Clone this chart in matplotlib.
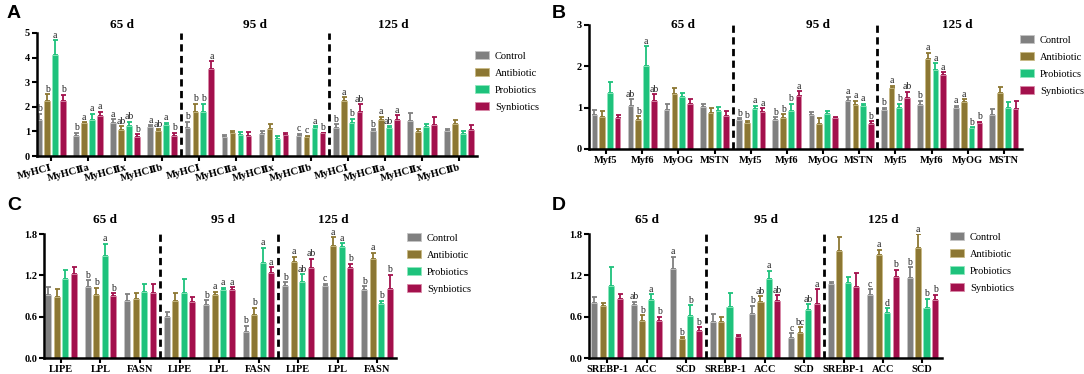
import numpy as np
import matplotlib
matplotlib.use("Agg")
import matplotlib.pyplot as plt
from matplotlib.patches import Patch
from matplotlib.transforms import blended_transform_factory, ScaledTranslation

plt.rcParams['font.family'] = ['Liberation Serif', 'DejaVu Serif']

W, H = 1084, 374

treatments = ['Control', 'Antibiotic', 'Probiotics', 'Synbiotics']
colors = ['#808080', '#8c7733', '#1ec27c', '#a3104c']
edges = ['#c4c4c4', '#c9bb86', '#8fe8bd', '#d98aa8']
days = ['65 d', '95 d', '125 d']

# ---- panel A: MyHC isoforms ----
A_genes = ['MyHCⅠ', 'MyHCⅡa', 'MyHCⅡx', 'MyHCⅡb']
A_mean = [
    [1.47, 0.82, 1.33, 1.17, 1.13, 0.77, 0.88, 0.80, 1.13, 1.02, 1.43, 1.02],
    [2.25, 1.33, 1.07, 1.00, 1.78, 0.92, 1.10, 0.77, 2.23, 1.46, 0.98, 1.32],
    [4.12, 1.45, 1.20, 1.25, 1.78, 0.85, 0.70, 1.15, 1.34, 1.12, 1.19, 0.90],
    [2.23, 1.63, 0.78, 0.83, 3.55, 0.82, 0.87, 0.92, 1.78, 1.46, 1.27, 1.04],
]
A_sd = [
    [0.25, 0.13, 0.17, 0.08, 0.27, 0.08, 0.12, 0.10, 0.17, 0.08, 0.32, 0.06],
    [0.27, 0.05, 0.15, 0.10, 0.34, 0.11, 0.20, 0.05, 0.15, 0.14, 0.12, 0.13],
    [0.58, 0.27, 0.20, 0.10, 0.34, 0.13, 0.10, 0.05, 0.18, 0.08, 0.11, 0.10],
    [0.27, 0.17, 0.10, 0.12, 0.30, 0.15, 0.06, 0.03, 0.32, 0.19, 0.33, 0.21],
]
A_sig = [
    ['b', 'b', 'a', 'a', 'b', '', '', 'c', 'b', 'b', '', ''],
    ['b', 'a', 'ab', 'ab', 'b', '', '', 'c', 'a', 'a', '', ''],
    ['a', 'a', 'ab', 'a', 'b', '', '', 'a', 'b', 'ab', '', ''],
    ['b', 'a', 'b', 'b', 'a', '', '', 'b', 'ab', 'a', '', ''],
]

# ---- panel B: myogenic factors ----
B_genes = ['Myf5', 'Myf6', 'MyOG', 'MSTN']
B_mean = [
    [0.82, 1.04, 0.94, 1.02, 0.70, 0.70, 0.82, 1.17, 0.94, 1.07, 1.00, 0.83],
    [0.78, 0.70, 1.33, 0.86, 0.62, 0.76, 0.60, 1.06, 1.47, 2.18, 1.13, 1.35],
    [1.35, 2.00, 1.26, 0.92, 0.97, 0.93, 0.85, 1.05, 1.00, 1.92, 0.50, 0.98],
    [0.74, 1.16, 1.10, 0.79, 0.89, 1.28, 0.74, 0.60, 1.24, 1.78, 0.62, 0.97],
]
B_sd = [
    [0.13, 0.16, 0.14, 0.08, 0.05, 0.07, 0.08, 0.10, 0.06, 0.10, 0.05, 0.13],
    [0.14, 0.10, 0.15, 0.12, 0.06, 0.08, 0.14, 0.11, 0.06, 0.15, 0.07, 0.15],
    [0.28, 0.48, 0.09, 0.10, 0.08, 0.17, 0.08, 0.05, 0.10, 0.16, 0.03, 0.15],
    [0.08, 0.17, 0.10, 0.13, 0.09, 0.12, 0.04, 0.07, 0.15, 0.08, 0.04, 0.19],
]
B_sig = [
    ['', 'ab', '', '', 'b', 'b', '', 'a', 'b', 'b', 'a', ''],
    ['', 'b', '', '', 'b', 'b', '', 'a', 'a', 'a', 'a', ''],
    ['', 'a', '', '', 'a', 'b', '', 'a', 'b', 'a', 'b', ''],
    ['', 'ab', '', '', 'a', 'a', '', 'b', 'ab', 'a', 'b', ''],
]

# ---- panel C: lipid metabolism ----
C_genes = ['LIPE', 'LPL', 'FASN']
C_mean = [
    [0.92, 1.03, 0.83, 0.60, 0.77, 0.38, 1.05, 1.04, 0.99],
    [0.88, 0.92, 0.85, 0.83, 0.91, 0.62, 1.39, 1.62, 1.44],
    [1.14, 1.48, 0.96, 0.94, 0.99, 1.38, 1.11, 1.61, 0.79],
    [1.22, 0.90, 0.94, 0.82, 0.98, 1.24, 1.30, 1.30, 1.00],
]
C_sd = [
    [0.11, 0.10, 0.10, 0.07, 0.07, 0.09, 0.05, 0.04, 0.05],
    [0.12, 0.10, 0.09, 0.11, 0.05, 0.11, 0.08, 0.13, 0.09],
    [0.14, 0.18, 0.12, 0.21, 0.03, 0.22, 0.11, 0.06, 0.04],
    [0.10, 0.04, 0.14, 0.07, 0.05, 0.08, 0.14, 0.07, 0.21],
]
C_sig = [
    ['', 'b', '', '', 'b', 'b', 'b', 'c', 'b'],
    ['', 'b', '', '', 'a', 'b', 'a', 'a', 'a'],
    ['', 'a', '', '', 'a', 'a', 'ab', 'a', 'b'],
    ['', 'b', '', '', 'a', 'a', 'ab', 'b', 'b'],
]

# ---- panel D: lipogenesis ----
D_genes = ['SREBP-1', 'ACC', 'SCD']
D_mean = [
    [0.80, 0.77, 1.29, 0.52, 0.64, 0.29, 1.07, 0.91, 1.16],
    [0.75, 0.54, 0.28, 0.52, 0.82, 0.37, 1.55, 1.50, 1.60],
    [1.05, 0.84, 0.61, 0.74, 1.15, 0.70, 1.09, 0.66, 0.72],
    [0.85, 0.54, 0.39, 0.31, 0.83, 0.78, 1.03, 1.18, 0.84],
]
D_sd = [
    [0.08, 0.05, 0.18, 0.12, 0.12, 0.07, 0.03, 0.09, 0.16],
    [0.05, 0.08, 0.02, 0.08, 0.08, 0.08, 0.20, 0.07, 0.20],
    [0.27, 0.09, 0.16, 0.21, 0.12, 0.08, 0.09, 0.06, 0.14],
    [0.08, 0.06, 0.06, 0.03, 0.08, 0.22, 0.21, 0.10, 0.08],
]
D_sig = [
    ['', 'ab', 'a', '', 'b', 'c', '', 'c', 'b'],
    ['', 'b', 'b', '', 'ab', 'bc', '', 'a', 'a'],
    ['', 'a', 'b', '', 'a', 'ab', '', 'd', 'b'],
    ['', 'b', 'b', '', 'ab', 'a', '', 'b', 'b'],
]


def px_box(l, t, r, b):
    return [l / W, 1 - b / H, (r - l) / W, (b - t) / H]


def draw_panel(ax, genes, mean, sd, sig, xlim, ylim, yticks, ytl,
               title_x, title_y, rot=0):
    n = len(genes) * 3
    x = np.arange(n)
    step, width = 0.215, 0.155
    for i in range(4):
        xi = x + (i - 1.5) * step
        m = np.array(mean[i])
        s = np.array(sd[i])
        ax.bar(xi, m, width, color=colors[i], edgecolor=edges[i], linewidth=0.6, zorder=2)
        ax.errorbar(xi, m, yerr=[np.zeros(n), s], fmt='none', ecolor=colors[i],
                    elinewidth=1.3, capsize=1.8, capthick=1.3, zorder=1)
        for j in range(n):
            if sig[i][j]:
                ax.annotate(sig[i][j], (xi[j], m[j] + s[j]), xytext=(0, 0.3),
                            textcoords='offset points', ha='center', va='bottom',
                            fontsize=7, color='#222222')
    per = len(genes)
    for d in range(1, 3):
        ax.axvline(d * per - 0.5, color='black', lw=2, ls=(0, (2.6, 1.6)), zorder=3)
    tr = blended_transform_factory(ax.transData, ax.transAxes)
    for d in range(3):
        ax.text(title_x[d], title_y, days[d], transform=tr, ha='center', va='center',
                fontsize=9.5, fontweight='bold')
    ax.set_xlim(*xlim)
    ax.set_ylim(*ylim)
    ax.set_yticks(yticks)
    ax.set_yticklabels(ytl, fontsize=7.5, fontweight='bold')
    ax.set_xticks(x)
    if rot:
        ax.set_xticklabels(genes * 3, fontsize=7.5, fontweight='bold', rotation=rot,
                           ha='right', va='top', rotation_mode='anchor')
        shift = ScaledTranslation(6 / 100, 0, fig.dpi_scale_trans)
        for lab in ax.get_xticklabels():
            lab.set_transform(lab.get_transform() + shift)
    else:
        ax.set_xticklabels(genes * 3, fontsize=7.5, fontweight='bold')
    for sp in ['top', 'right']:
        ax.spines[sp].set_visible(False)
    for sp in ['left', 'bottom']:
        ax.spines[sp].set_linewidth(1.8)
    ax.tick_params(axis='both', direction='out', length=3.5, width=1.5, pad=1.5)


def add_legend(fig, left_px, top_px):
    handles = [Patch(facecolor=colors[i], edgecolor=edges[i], linewidth=0.6)
               for i in range(4)]
    fig.legend(handles, treatments, loc='upper left',
               bbox_to_anchor=(left_px / W, 1 - top_px / H), frameon=False,
               fontsize=7.5, handlelength=1.35, handleheight=0.8,
               handletextpad=0.55, labelspacing=0.72, borderpad=0, borderaxespad=0)


fig = plt.figure(figsize=(W / 100, H / 100), dpi=100)

axA = fig.add_axes(px_box(37, 33, 477, 156))
draw_panel(axA, A_genes, A_mean, A_sd, A_sig, (-0.38, 11.49), (0, 5),
           [0, 1, 2, 3, 4, 5], ['0', '1', '2', '3', '4', '5'],
           [1.92, 5.5, 9.24], 1.065, rot=15)
add_legend(fig, 475, 51)

axB = fig.add_axes(px_box(589, 25, 1022, 149))
draw_panel(axB, B_genes, B_mean, B_sd, B_sig, (-0.47, 11.5), (0, 3),
           [0, 1, 2, 3], ['0', '1', '2', '3'],
           [2.13, 5.86, 9.7], 1.0)
add_legend(fig, 1020, 35)

yt = [0, 0.6, 1.2, 1.8]
ytl = ['0.0', '0.6', '1.2', '1.8']
axC = fig.add_axes(px_box(44, 234, 396, 358))
draw_panel(axC, C_genes, C_mean, C_sd, C_sig, (-0.43, 8.48), (0, 1.8),
           yt, ytl, [1.11, 4.1, 6.9], 1.11)
add_legend(fig, 407, 233)

axD = fig.add_axes(px_box(589, 234, 942, 358))
draw_panel(axD, D_genes, D_mean, D_sd, D_sig, (-0.46, 8.5), (0, 1.8),
           yt, ytl, [1.0, 4.04, 7.0], 1.11)
add_legend(fig, 950, 232)

for lab, (px, py) in zip('ABCD', [(14, 13), (559, 13), (14, 206), (559, 206)]):
    fig.text(px / W, 1 - py / H, lab, fontsize=14, fontweight='bold',
             family='Liberation Sans', ha='center', va='center')

fig.savefig('out.png', dpi=100)
